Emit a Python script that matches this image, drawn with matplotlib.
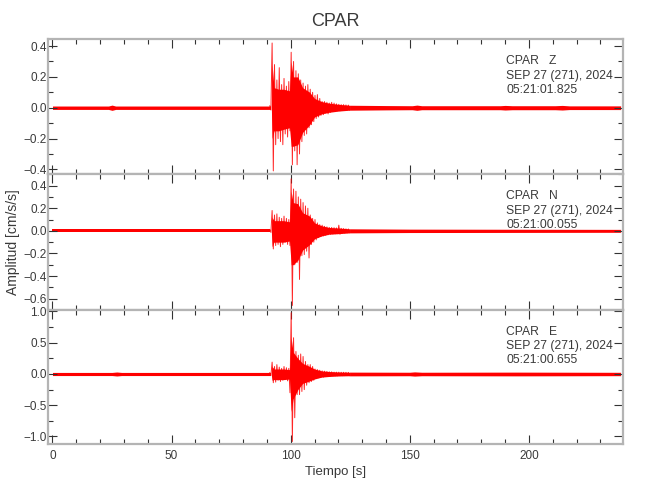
import numpy as np
import matplotlib
matplotlib.use('Agg')
import matplotlib.pyplot as plt
from matplotlib.ticker import MultipleLocator

plt.rcParams['font.family'] = ['Liberation Sans', 'DejaVu Sans']
plt.rcParams['axes.unicode_minus'] = True

TXT = '#3a3a3a'
RED = '#ff0000'

station = 'CPAR'
channels = ['Z', 'N', 'E']
dates = ['SEP 27 (271), 2024'] * 3
start_times = ['05:21:01.825', '05:21:00.055', '05:21:00.655']
ylims = [(-0.432, 0.444), (-0.70, 0.50), (-1.125, 1.024)]
major_steps = [0.2, 0.2, 0.5]
minor_steps = [0.1, 0.1, 0.25]

# event part: signed peaks every 0.5 s from 91.2 s
t0, dt = 91.2, 0.5
peaks_z = [0.012, -0.015, 0.42, -0.41, 0.28, -0.24, 0.18, -0.20, 0.26, -0.22,
           0.15, -0.24, 0.19, -0.17, 0.14, -0.19, 0.17, -0.15, 0.36, -0.37,
           0.30, -0.28, 0.24, -0.37, 0.22, -0.30, 0.18, -0.22, 0.16, -0.18,
           0.14, -0.17, 0.15, -0.13, 0.12, -0.11, 0.10, -0.09, 0.08, -0.07,
           0.085, -0.06, 0.06, -0.05, 0.04, -0.045, 0.04, -0.035, 0.035, -0.04,
           0.03, -0.03, 0.035, -0.025, 0.03, -0.025, 0.025, -0.02, 0.022, -0.02,
           0.02, -0.018, 0.02, -0.018, 0.018, -0.016, 0.017, -0.015]
peaks_n = [0.012, -0.014, 0.18, -0.16, 0.14, -0.13, 0.15, -0.12, 0.12, -0.14,
           0.11, -0.12, 0.13, -0.10, 0.11, -0.12, 0.10, -0.13, 0.46, -0.66,
           0.37, -0.30, 0.35, -0.28, 0.30, -0.43, 0.28, -0.22, 0.25, -0.21,
           0.22, -0.18, 0.20, -0.24, 0.14, -0.12, 0.11, -0.10, 0.10, -0.08,
           0.07, -0.06, 0.055, -0.05, 0.05, -0.045, 0.04, -0.04, 0.035, -0.035,
           0.03, -0.03, 0.03, -0.028, 0.028, -0.026, 0.026, -0.025, 0.05, -0.03,
           0.022, -0.02, 0.02, -0.02, 0.018, -0.018, 0.017, -0.016]
peaks_e = [0.02, -0.025, 0.19, -0.14, 0.12, -0.13, 0.15, -0.10, 0.11, -0.12,
           0.09, -0.10, 0.12, -0.09, 0.10, -0.11, 0.09, -0.30, 0.98, -1.08,
           0.58, -0.70, 0.36, -0.33, 0.30, -0.33, 0.32, -0.28, 0.28, -0.25,
           0.20, -0.18, 0.15, -0.14, 0.15, -0.12, 0.12, -0.10, 0.08, -0.07,
           0.07, -0.06, 0.06, -0.055, 0.05, -0.05, 0.045, -0.04, 0.04, -0.04,
           0.035, -0.035, 0.035, -0.03, 0.03, -0.03, 0.03, -0.03, 0.03, -0.028,
           0.028, -0.028, 0.028, -0.027, 0.027, -0.026, 0.026, -0.026]

# solid core of the trace during the event (upper / lower edge)
core_t = [91.9, 92.2, 93.0, 95.0, 97.0, 99.5, 100.2, 101.0, 103.0, 105.0, 108.0, 110.0, 113.0, 116.0, 120.0, 124.7]
core_hi_z = [0.012, 0.28, 0.13, 0.12, 0.12, 0.11, 0.30, 0.20, 0.20, 0.13, 0.10, 0.06, 0.04, 0.03, 0.022, 0.016]
core_lo_z = [-0.012, -0.20, -0.15, -0.15, -0.14, -0.13, -0.25, -0.25, -0.24, -0.16, -0.11, -0.06, -0.04, -0.03, -0.022, -0.016]
core_hi_n = [0.014, 0.12, 0.09, 0.09, 0.09, 0.08, 0.35, 0.25, 0.24, 0.16, 0.13, 0.07, 0.045, 0.03, 0.025, 0.018]
core_lo_n = [-0.014, -0.14, -0.10, -0.10, -0.10, -0.09, -0.30, -0.30, -0.26, -0.17, -0.12, -0.07, -0.045, -0.03, -0.025, -0.018]
core_hi_e = [0.025, 0.12, 0.08, 0.08, 0.08, 0.07, 0.58, 0.35, 0.25, 0.17, 0.12, 0.08, 0.05, 0.04, 0.032, 0.028]
core_lo_e = [-0.025, -0.10, -0.09, -0.09, -0.09, -0.08, -0.60, -0.40, -0.25, -0.15, -0.11, -0.08, -0.05, -0.04, -0.032, -0.028]

# background noise: half width of the band
noise_t_z = [0, 23.5, 25, 26.5, 91.5, 124.7, 140, 151, 153, 155, 188, 190, 193, 211, 214, 217, 238.5]
noise_w_z = [0.011, 0.011, 0.017, 0.011, 0.011, 0.016, 0.014, 0.013, 0.017, 0.013,
             0.013, 0.015, 0.013, 0.013, 0.015, 0.012, 0.012]
noise_t_n = [0, 60, 91.5, 124.7, 150, 238.5]
noise_w_n = [0.014, 0.014, 0.014, 0.018, 0.015, 0.013]
noise_t_e = [0, 25, 27, 29, 91.5, 124.7, 150, 152, 155, 195, 238.5]
noise_w_e = [0.025, 0.025, 0.032, 0.025, 0.025, 0.03, 0.028, 0.034, 0.028, 0.03, 0.027]

peaks = [peaks_z, peaks_n, peaks_e]
core_hi = [core_hi_z, core_hi_n, core_hi_e]
core_lo = [core_lo_z, core_lo_n, core_lo_e]
noise_t = [noise_t_z, noise_t_n, noise_t_e]
noise_w = [noise_w_z, noise_w_n, noise_w_e]

fig = plt.figure(figsize=(6.5, 5), dpi=100)
boxes = [[0.0738, 0.6514, 0.885, 0.27],
         [0.0738, 0.38, 0.885, 0.2714],
         [0.0738, 0.1114, 0.885, 0.2686]]

for i in range(3):
    ax = fig.add_axes(boxes[i])
    nt = np.array(noise_t[i])
    nw = np.array(noise_w[i])
    pre = nt <= 91.5
    post = nt >= 124.7
    ax.fill_between(nt[pre], -nw[pre], nw[pre], color=RED, lw=0)
    ax.fill_between(nt[post], -nw[post], nw[post], color=RED, lw=0)
    ax.fill_between(core_t, core_lo[i], core_hi[i], color=RED, lw=0)
    p = np.array(peaks[i])
    tt = t0 + dt * np.arange(len(p))
    ax.plot(tt, p, color=RED, lw=0.7, alpha=0.85)

    ax.set_xlim(-1.9, 239.6)
    ax.set_ylim(*ylims[i])
    ax.xaxis.set_major_locator(MultipleLocator(50))
    ax.xaxis.set_minor_locator(MultipleLocator(10))
    ax.yaxis.set_major_locator(MultipleLocator(major_steps[i]))
    ax.yaxis.set_minor_locator(MultipleLocator(minor_steps[i]))
    ax.tick_params(which='both', direction='in', top=True, right=True,
                   color='#333333', width=0.8, labelcolor=TXT, labelsize=8.5)
    ax.tick_params(which='major', length=6.8)
    ax.tick_params(which='minor', length=3.6)
    ax.tick_params(axis='y', pad=1)
    ax.tick_params(axis='x', pad=4)
    for s in ax.spines.values():
        s.set_color('#b4b4b4')
        s.set_linewidth(1.6)
    if i < 2:
        ax.tick_params(labelbottom=False)
    else:
        ax.set_xlabel('Tiempo [s]', fontsize=9.5, color=TXT, labelpad=3)
    if i == 1:
        ax.set_ylabel('Amplitud [cm/s/s]', fontsize=10, color=TXT, labelpad=2)

    ax.text(0.797, 0.839, station + '   ' + channels[i], transform=ax.transAxes,
            fontsize=8.7, color=TXT, va='center', ha='left')
    ax.text(0.797, 0.730, dates[i], transform=ax.transAxes,
            fontsize=8.7, color=TXT, va='center', ha='left')
    ax.text(0.797, 0.624, start_times[i], transform=ax.transAxes,
            fontsize=8.7, color=TXT, va='center', ha='left')

fig.text(0.516, 0.956, station, fontsize=13, color=TXT, ha='center', va='center')

fig.savefig('out.png', dpi=100)
